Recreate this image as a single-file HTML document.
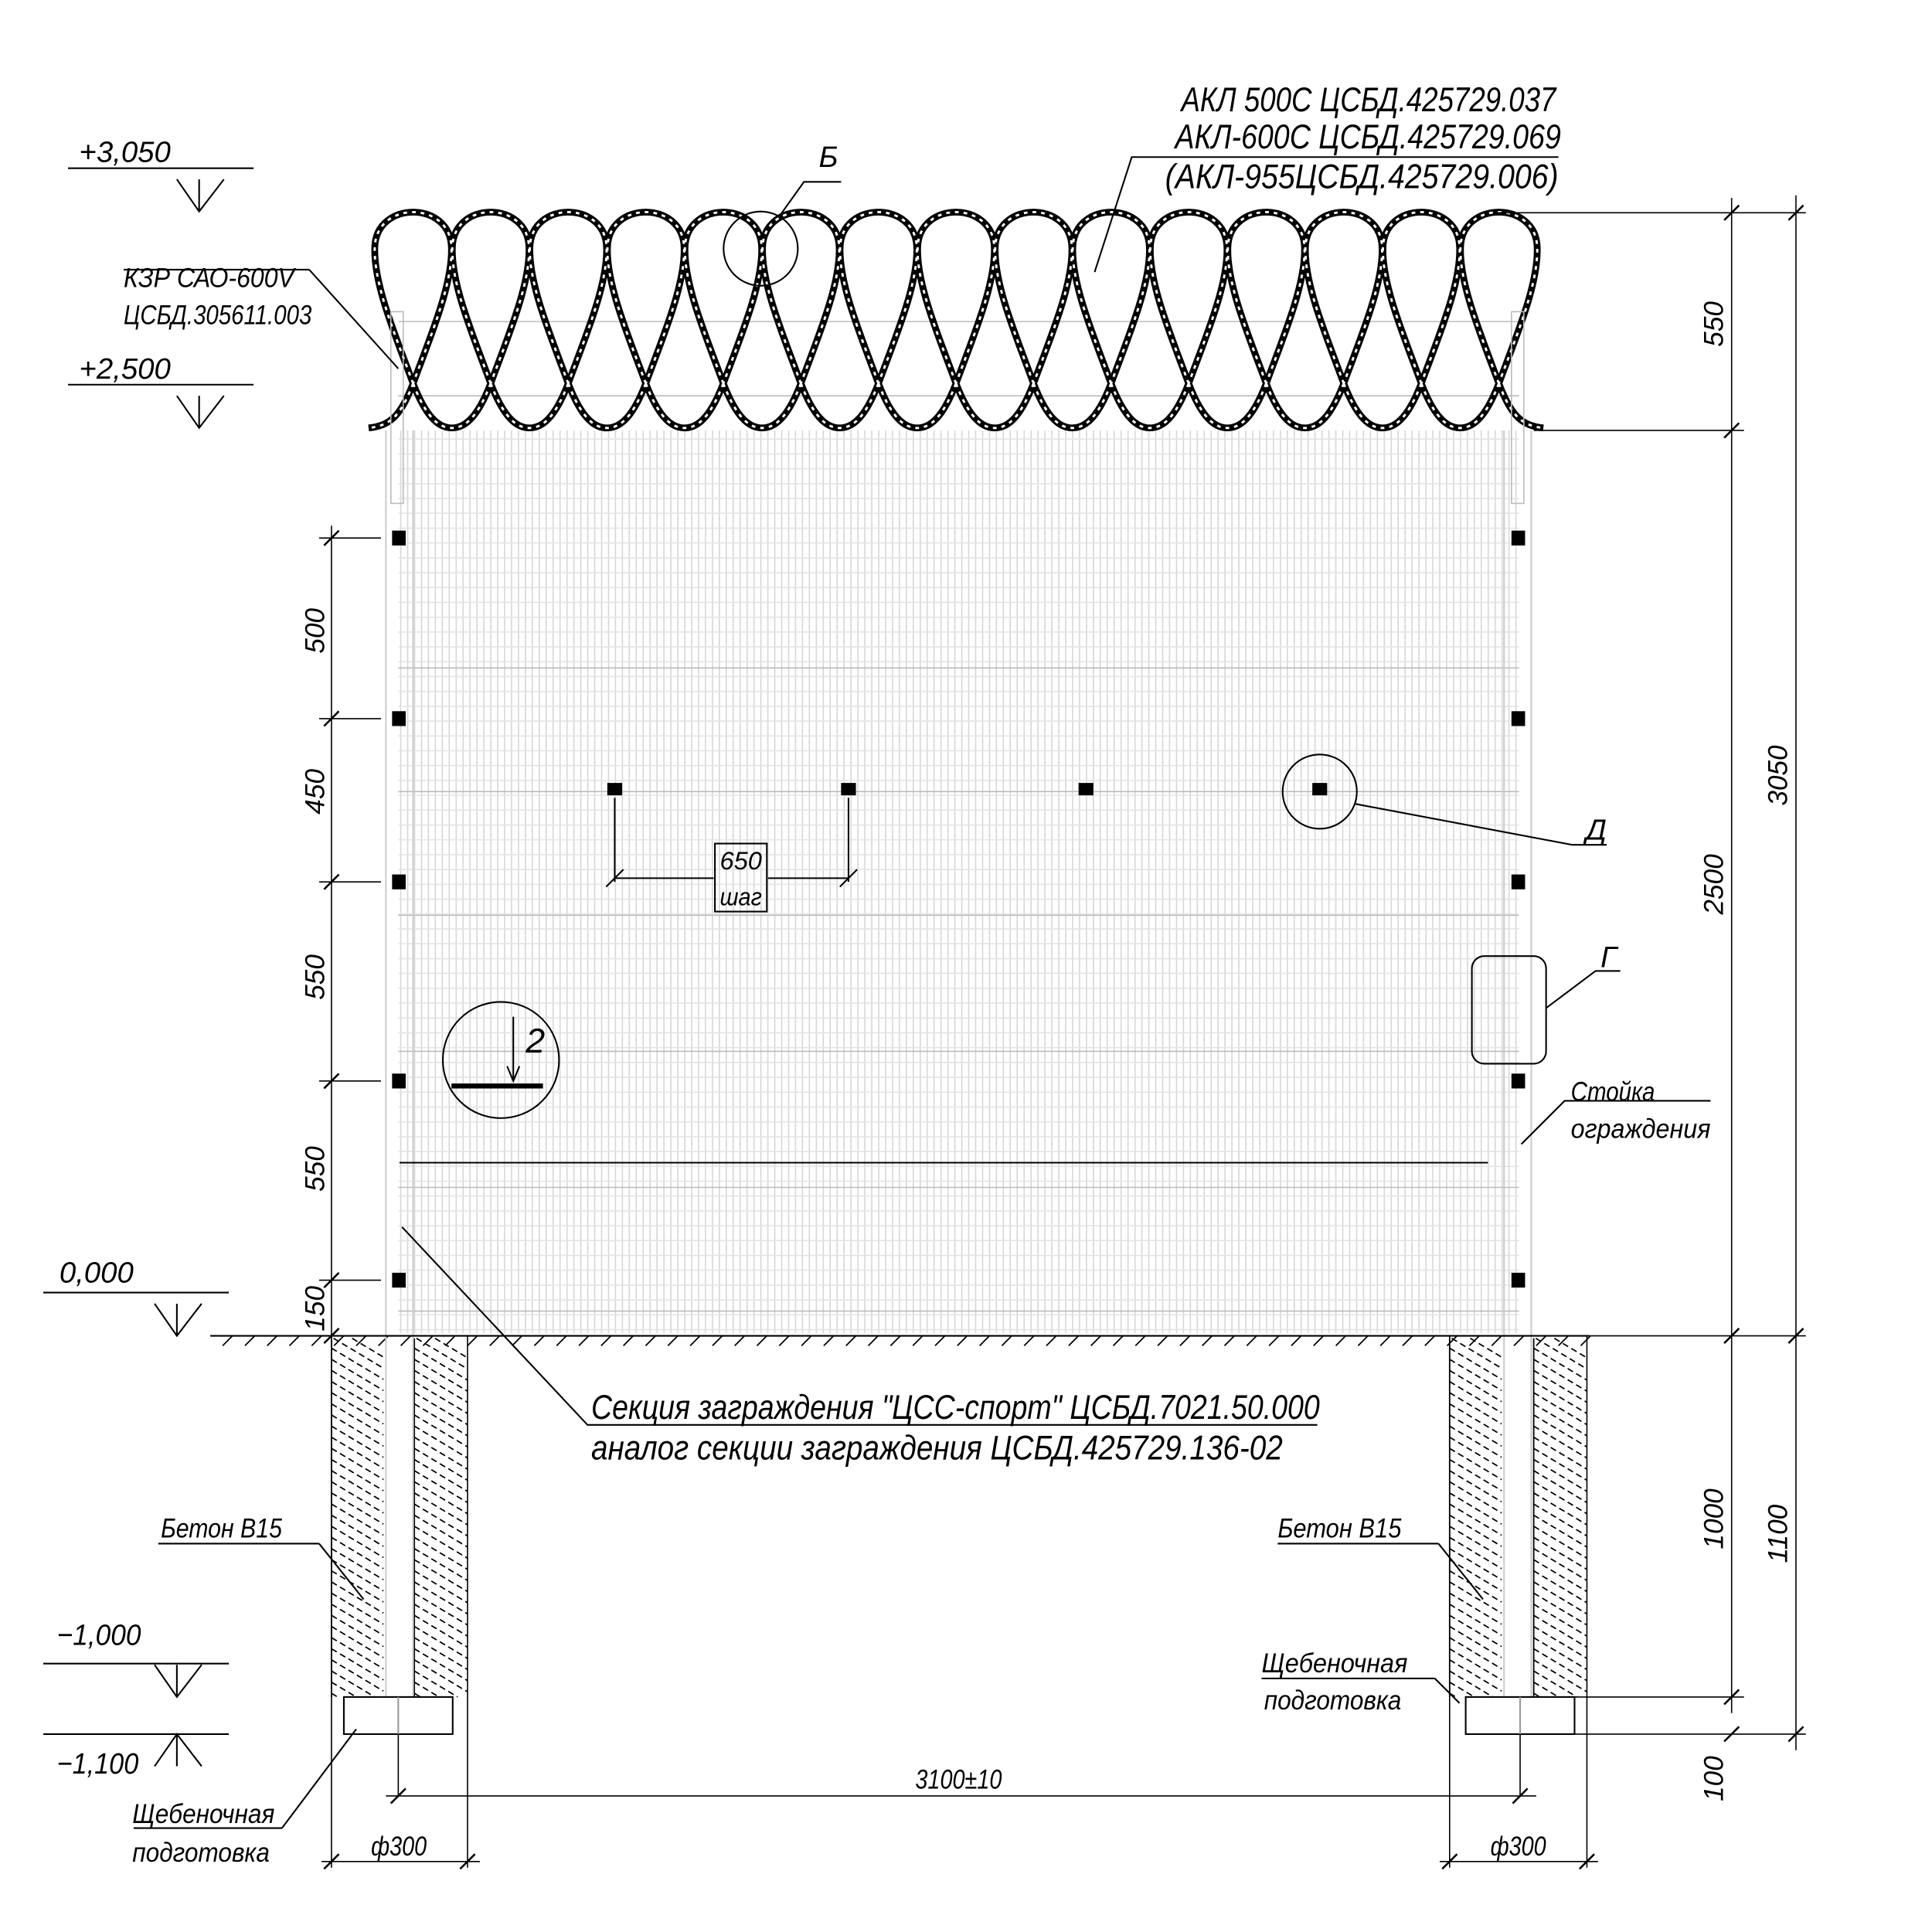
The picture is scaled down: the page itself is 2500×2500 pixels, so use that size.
<!DOCTYPE html>
<html><head><meta charset="utf-8"><style>
html,body{margin:0;padding:0;background:#fff}
svg{display:block}
text{font-family:"Liberation Sans","DejaVu Sans",sans-serif;font-style:italic;fill:#000}
</style></head><body>
<svg id="s" xmlns="http://www.w3.org/2000/svg" width="2500" height="2500" viewBox="0 0 1562 1562">
<g id="mesh" stroke="#d6d6d6" stroke-width="1" fill="none"></g>
<g id="coil" fill="none"></g>
<g id="hatch" stroke="#000" stroke-width="1.1" fill="none"></g>
<g stroke="#000" fill="none" stroke-width="1.3">
<rect x="316" y="252" width="10" height="155" stroke="#bbb" stroke-width="1"/>
<rect x="1222" y="252" width="10" height="155" stroke="#bbb" stroke-width="1"/>
<line x1="312" y1="348" x2="312" y2="1372" stroke="#ccc"/>
<line x1="334" y1="348" x2="334" y2="1372" stroke="#ccc"/>
<line x1="1216" y1="348" x2="1216" y2="1372" stroke="#ccc"/>
<line x1="1238" y1="348" x2="1238" y2="1372" stroke="#ccc"/>
<line x1="170" y1="1080" x2="1285" y2="1080"/>
<line x1="1210" y1="172" x2="1460" y2="172" stroke-width="1"/>
<line x1="1240" y1="348" x2="1410" y2="348" stroke-width="1"/>
<line x1="1285" y1="1080" x2="1460" y2="1080" stroke-width="1"/>
<line x1="1272" y1="1372" x2="1410" y2="1372" stroke-width="1"/>
<line x1="1272" y1="1402" x2="1460" y2="1402" stroke-width="1"/>
<line x1="1400" y1="160" x2="1400" y2="1385" stroke-width="1"/>
<line x1="1452" y1="158" x2="1452" y2="1415" stroke-width="1"/>
<path d="M1394 178l12-12M1394 354l12-12M1394 1086l12-12M1394 1378l12-12M1394 1408l12-12M1446 178l12-12M1446 1086l12-12M1446 1408l12-12" stroke-width="1.6"/>
<line x1="268" y1="425" x2="268" y2="1092" stroke-width="1"/>
<path d="M258 435h50M258 581h50M258 713h50M258 874h50M258 1035h50" stroke-width="1"/>
<path d="M262 441l12-12M262 587l12-12M262 719l12-12M262 880l12-12M262 1041l12-12M262 1086l12-12" stroke-width="1.6"/>
<path d="M55 136h150M143 145l18 26l20-26M161 145v26" />
<path d="M55 311h150M143 320l18 26l20-26M161 320v26"/>
<path d="M35 1045h150M125 1054l18 26l20-26M143 1054v26"/>
<path d="M35 1345h150M125 1346l18 26l20-26M143 1346v26"/>
<path d="M35 1402h150M125 1428l18-26l20 26M143 1402v26"/>
<rect x="278" y="1372" width="88" height="30"/>
<rect x="1185" y="1372" width="88" height="30"/>
<line x1="322" y1="1372" x2="322" y2="1402" stroke="#999"/>
<line x1="1229" y1="1372" x2="1229" y2="1402" stroke="#999"/>
<path d="M268 1080v430M378 1080v430M1172 1080v430M1283 1080v430" stroke-width="1"/>
<path d="M322 1402v50M1229 1402v50M312 1452h930" stroke-width="1"/>
<path d="M316 1458l12-12M1223 1458l12-12" stroke-width="1.6"/>
<path d="M260 1505h128M1164 1505h128" stroke-width="1"/>
<path d="M262 1511l12-12M372 1511l12-12M1166 1511l12-12M1277 1511l12-12" stroke-width="1.6"/>
<circle cx="615" cy="201" r="30"/>
<path d="M630 175l20-28h30"/>
<circle cx="1067" cy="640" r="30"/>
<path d="M1096 650l175 33h28"/>
<circle cx="405" cy="857" r="47"/>
<path d="M365 878h74" stroke-width="4"/>
<path d="M415 822v50M410 862l5 12l5-12"/>
<rect x="1190" y="773" width="60" height="87" rx="10"/>
<path d="M1250 815l40-30h20"/>
<path d="M497 645v68M686 645v68M490 717l14-14M679 717l14-14M497 710h80M621 710h65"/>
<rect x="578" y="682" width="42" height="55"/>
<path d="M250 218h-150M250 218l72 80" />
<path d="M258 1248h-130M258 1248l36 45"/>
<path d="M1163 1248h-130M1163 1248l36 45"/>
<path d="M1160 1357h-140M1160 1357l20 20"/>
<path d="M228 1478h-120M228 1478l60-80"/>
<path d="M885 220l30-93h345"/>
<path d="M1230 925l35-35h118"/>
<path d="M323 940h880"/>
<path d="M325 992l150 160h590"/>
</g>
<g font-size="24">
<text x="64" y="131" textLength="74" lengthAdjust="spacingAndGlyphs">+3,050</text>
<text x="64" y="306" textLength="74" lengthAdjust="spacingAndGlyphs">+2,500</text>
<text x="48" y="1037" textLength="60" lengthAdjust="spacingAndGlyphs">0,000</text>
<text x="46" y="1330" textLength="68" lengthAdjust="spacingAndGlyphs">−1,000</text>
<text x="46" y="1434" textLength="66" lengthAdjust="spacingAndGlyphs">−1,100</text>
<text x="100" y="232" font-size="22" textLength="138" lengthAdjust="spacingAndGlyphs">КЗР САО-600V</text>
<text x="100" y="262" font-size="22" textLength="152" lengthAdjust="spacingAndGlyphs">ЦСБД.305611.003</text>
<text x="955" y="90" font-size="28" textLength="303" lengthAdjust="spacingAndGlyphs">АКЛ 500С ЦСБД.425729.037</text>
<text x="950" y="120" font-size="28" textLength="312" lengthAdjust="spacingAndGlyphs">АКЛ-600С ЦСБД.425729.069</text>
<text x="942" y="152" font-size="28" textLength="318" lengthAdjust="spacingAndGlyphs">(АКЛ-955ЦСБД.425729.006)</text>
<text x="662" y="135">Б</text>
<text x="1282" y="679">Д</text>
<text x="1294" y="782">Г</text>
<text x="425" y="851" font-size="28">2</text>
<text x="582" y="703" font-size="20" textLength="34" lengthAdjust="spacingAndGlyphs">650</text>
<text x="582" y="732" font-size="20" textLength="34" lengthAdjust="spacingAndGlyphs">шаг</text>
<text x="1270" y="890" font-size="22" textLength="68" lengthAdjust="spacingAndGlyphs">Стойка</text>
<text x="1270" y="920" font-size="22" textLength="113" lengthAdjust="spacingAndGlyphs">ограждения</text>
<text x="478" y="1147" font-size="28" textLength="589" lengthAdjust="spacingAndGlyphs">Секция заграждения "ЦСС-спорт" ЦСБД.7021.50.000</text>
<text x="478" y="1180" font-size="28" textLength="559" lengthAdjust="spacingAndGlyphs">аналог секции заграждения ЦСБД.425729.136-02</text>
<text x="130" y="1243" font-size="22" textLength="98" lengthAdjust="spacingAndGlyphs">Бетон В15</text>
<text x="1033" y="1243" font-size="22" textLength="100" lengthAdjust="spacingAndGlyphs">Бетон В15</text>
<text x="1020" y="1352" font-size="22" textLength="118" lengthAdjust="spacingAndGlyphs">Щебеночная</text>
<text x="1022" y="1382" font-size="22" textLength="111" lengthAdjust="spacingAndGlyphs">подготовка</text>
<text x="107" y="1474" font-size="22" textLength="115" lengthAdjust="spacingAndGlyphs">Щебеночная</text>
<text x="107" y="1505" font-size="22" textLength="111" lengthAdjust="spacingAndGlyphs">подготовка</text>
<text x="740" y="1446" font-size="22" textLength="70" lengthAdjust="spacingAndGlyphs">3100±10</text>
<text x="300" y="1500" font-size="22" textLength="45" lengthAdjust="spacingAndGlyphs">ф300</text>
<text x="1205" y="1500" font-size="22" textLength="45" lengthAdjust="spacingAndGlyphs">ф300</text>
<g font-size="22">
<text transform="translate(1393,262) rotate(-90)" text-anchor="middle">550</text>
<text transform="translate(1393,715) rotate(-90)" text-anchor="middle">2500</text>
<text transform="translate(1445,627) rotate(-90)" text-anchor="middle">3050</text>
<text transform="translate(1393,1228) rotate(-90)" text-anchor="middle">1000</text>
<text transform="translate(1445,1240) rotate(-90)" text-anchor="middle">1100</text>
<text transform="translate(1393,1438) rotate(-90)" text-anchor="middle">100</text>
<text transform="translate(262,510) rotate(-90)" text-anchor="middle">500</text>
<text transform="translate(262,640) rotate(-90)" text-anchor="middle">450</text>
<text transform="translate(262,790) rotate(-90)" text-anchor="middle">550</text>
<text transform="translate(262,945) rotate(-90)" text-anchor="middle">550</text>
<text transform="translate(262,1058) rotate(-90)" text-anchor="middle">150</text>
</g>
</g>
<g id="sq" fill="#000"></g>
</svg>
<script>
var NS="http://www.w3.org/2000/svg";
function el(p,t,a){var e=document.createElementNS(NS,t);for(var k in a)e.setAttribute(k,a[k]);p.appendChild(e);return e;}
var mesh=document.getElementById('mesh');
for(var x=324;x<=1226;x+=5.6){el(mesh,'line',{x1:x,y1:348,x2:x,y2:1078});}
for(var y=355;y<1078;y+=12){el(mesh,'line',{x1:322,y1:y,x2:1228,y2:y,stroke:'#e4e4e4'});}
[260,320,540,640,740,850,960,1060].forEach(function(y){el(mesh,'line',{x1:322,y1:y,x2:1228,y2:y,stroke:'#bbb'});});
var coil=document.getElementById('coil');
var d='';var P=62.7;
for(var k=0;k<15;k++){
 var c=334+P*k;
 d+='M'+c+' 310 C'+(c-14)+' 272 '+(c-32)+' 230 '+(c-31)+' 200 C'+(c-30)+' 162 '+(c+30)+' 162 '+(c+31)+' 200 C'+(c+32)+' 230 '+(c+14)+' 272 '+c+' 310 ';
}
for(var k=0;k<14;k++){
 var c=334+P*k;
 d+='M'+c+' 310 C'+(c+10)+' 336 '+(c+20)+' 346 '+(c+P/2)+' 346 C'+(c+P-20)+' 346 '+(c+P-10)+' 336 '+(c+P)+' 310 ';
}
d+='M334 310 C324 336 316 344 298 346 M'+(334+14*P)+' 310 C'+(344+14*P)+' 336 '+(352+14*P)+' 344 '+(370+14*P)+' 346';
el(coil,'path',{d:d,stroke:'#000','stroke-width':5.5});
el(coil,'path',{d:d,stroke:'#fff','stroke-width':1.8,'stroke-dasharray':'3 4'});
var h=document.getElementById('hatch');
function hatch(x1,x2,y1,y2){
 el(h,'line',{x1:x1,y1:y1,x2:x1,y2:y2,stroke:'#000'});
 for(var y=y1-10;y<y2;y+=9){var ya=Math.max(y,y1),yb=Math.min(y+(x2-x1)*0.6,y2);
  el(h,'line',{x1:x1+(ya-y)/0.6,y1:ya,x2:x1+(yb-y)/0.6,y2:yb,'stroke-dasharray':'5 3'});}
}
hatch(268,310,1082,1372);hatch(335,378,1082,1372);hatch(1172,1214,1082,1372);hatch(1240,1283,1082,1372);
for(var x=180;x<1285;x+=18){el(h,'line',{x1:x,y1:1088,x2:x+8,y2:1080});}
var sq=document.getElementById('sq');
[435,581,713,874,1035].forEach(function(y){el(sq,'rect',{x:317,y:y-6,width:11,height:12});el(sq,'rect',{x:1222,y:y-6,width:11,height:12});});
[497,686,878,1067].forEach(function(x){el(sq,'rect',{x:x-6,y:633,width:12,height:10});});
</script>
</body></html>
